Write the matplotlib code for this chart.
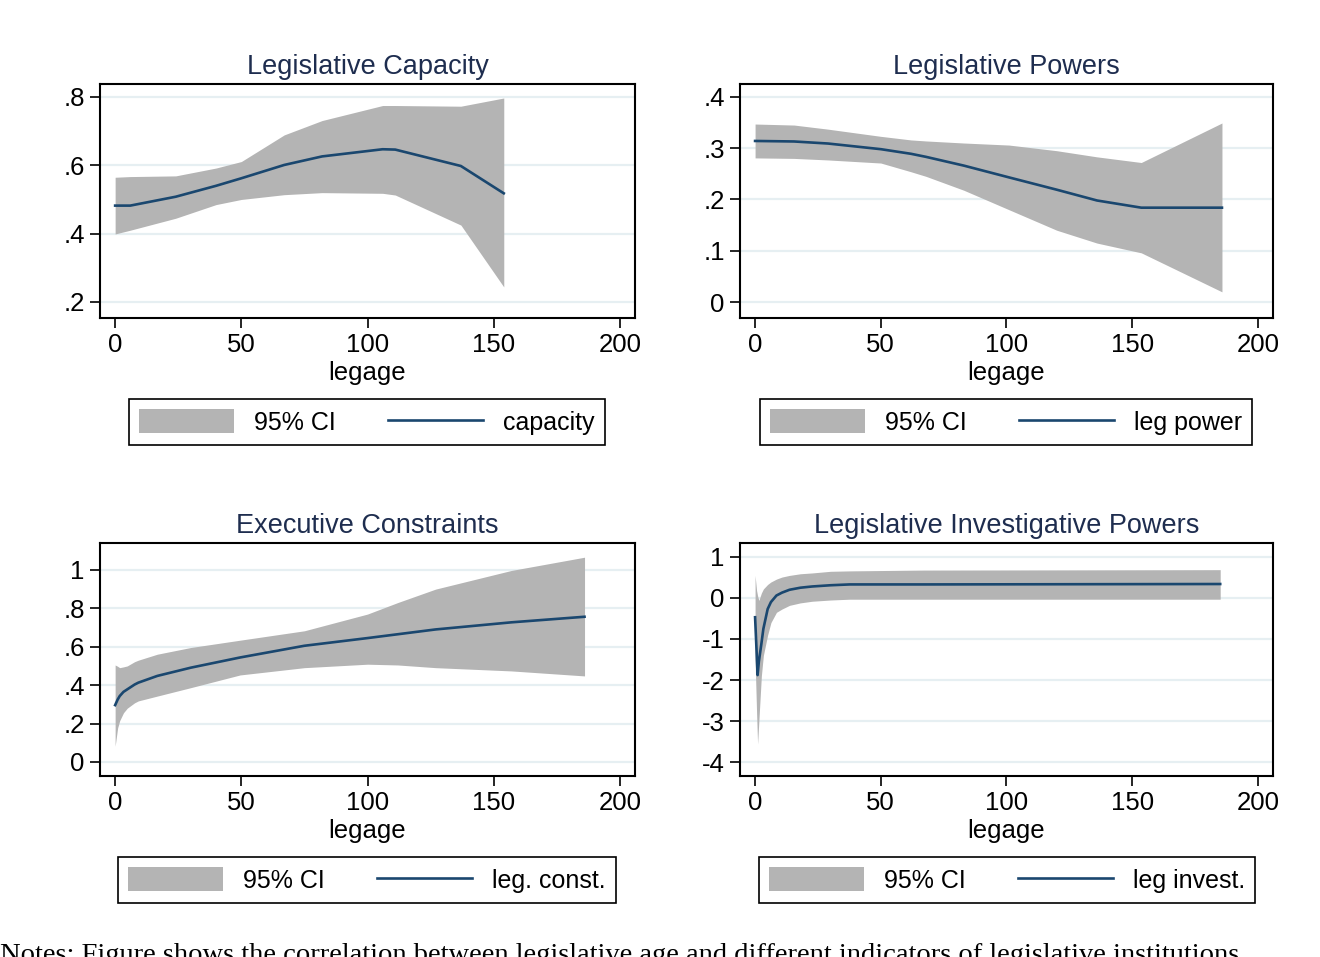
import matplotlib
matplotlib.use("Agg")
import matplotlib.pyplot as plt

plt.rcParams['font.family'] = ['Liberation Sans', 'DejaVu Sans']

#%% Data #######################################################################

# Legislative Capacity
cap_x = [0, 6, 24, 40, 50, 67, 82, 106, 111, 137, 154]
cap_fit = [0.482, 0.482, 0.508, 0.540, 0.562, 0.601, 0.626, 0.647, 0.646, 0.598, 0.518]
cap_hi = [0.565, 0.567, 0.569, 0.592, 0.611, 0.689, 0.731, 0.775, 0.775, 0.773, 0.797]
cap_lo = [0.399, 0.410, 0.445, 0.485, 0.500, 0.514, 0.520, 0.518, 0.513, 0.425, 0.244]

# Legislative Powers
pow_x = [0, 15.5, 29, 50, 62, 68, 83, 101, 120, 136, 153.6, 185.7]
pow_fit = [0.314, 0.313, 0.309, 0.298, 0.289, 0.283, 0.266, 0.243, 0.219, 0.198, 0.184, 0.184]
pow_hi = [0.347, 0.345, 0.337, 0.323, 0.316, 0.314, 0.310, 0.306, 0.295, 0.283, 0.272, 0.349]
pow_lo = [0.281, 0.280, 0.277, 0.271, 0.254, 0.245, 0.218, 0.180, 0.140, 0.115, 0.096, 0.020]

# Executive Constraints
ec_x = [0, 1, 1.8, 3.3, 4.8, 7.7, 9.2, 16.7, 30, 49.5, 75, 100, 112, 127, 157, 186]
ec_fit = [0.296, 0.325, 0.343, 0.365, 0.378, 0.403, 0.413, 0.448, 0.491, 0.544, 0.605,
          0.645, 0.665, 0.690, 0.727, 0.756]
ec_hi = [0.505, 0.498, 0.491, 0.495, 0.500, 0.522, 0.530, 0.561, 0.596, 0.634, 0.683,
         0.770, 0.830, 0.900, 0.997, 1.066]
ec_lo = [0.082, 0.178, 0.215, 0.256, 0.280, 0.308, 0.318, 0.343, 0.387, 0.453, 0.491,
         0.509, 0.505, 0.491, 0.474, 0.448]

# Legislative Investigative Powers
inv_x = [0, 0.6, 1, 1.5, 2.5, 3.3, 5, 6.3, 8.5, 10.7, 13.7, 18, 22.7, 30, 37.6, 52, 67, 185]
inv_fit = [-0.47, -1.30, -1.88, -1.55, -1.12, -0.75, -0.27, -0.10, 0.06, 0.13, 0.20, 0.25,
           0.28, 0.31, 0.33, 0.33, 0.33, 0.34]
inv_hi = [0.55, 0.18, 0.05, -0.06, 0.12, 0.22, 0.33, 0.39, 0.46, 0.51, 0.55, 0.59,
          0.61, 0.65, 0.66, 0.67, 0.68, 0.69]
inv_lo = [-1.50, -2.80, -3.56, -3.00, -1.90, -1.40, -0.90, -0.60, -0.35, -0.27, -0.18, -0.12,
          -0.08, -0.05, -0.03, -0.03, -0.03, -0.03]

xticks = [0, 50, 100, 150, 200]

panels = [
    ("Legislative Capacity", cap_x, cap_fit, cap_lo, cap_hi, "capacity",
     [0.2, 0.4, 0.6, 0.8], [".2", ".4", ".6", ".8"], (0.153, 0.838)),
    ("Legislative Powers", pow_x, pow_fit, pow_lo, pow_hi, "leg power",
     [0, 0.1, 0.2, 0.3, 0.4], ["0", ".1", ".2", ".3", ".4"], (-0.031, 0.425)),
    ("Executive Constraints", ec_x, ec_fit, ec_lo, ec_hi, "leg. const.",
     [0, 0.2, 0.4, 0.6, 0.8, 1], ["0", ".2", ".4", ".6", ".8", "1"], (-0.073, 1.14)),
    ("Legislative Investigative Powers", inv_x, inv_fit, inv_lo, inv_hi, "leg invest.",
     [-4, -3, -2, -1, 0, 1], ["-4", "-3", "-2", "-1", "0", "1"], (-4.34, 1.34)),
]

#%% Figure ####################################################################

W, H = 1320, 957
fig = plt.figure(figsize=(W / 100, H / 100), dpi=100)

# axes boxes in pixels (left, top, right, bottom) and legend centres
boxes = [(100, 84, 635, 318), (740, 84, 1273, 318),
         (100, 543, 635, 776), (740, 543, 1273, 776)]
leg_centres = [(367, 422), (1006, 422), (367, 880), (1007, 880)]

navy = "#1a476f"
ci_grey = "#b4b4b4"
title_col = "#1e2d4f"
fs_title = 19.5
fs_tick = 18.5
fs_leg = 18

for (title, x, fit, lo, hi, lab, yt, ytl, ylim), box, lc in zip(panels, boxes, leg_centres):
    l, t, r, b = box
    ax = fig.add_axes([l / W, 1 - b / H, (r - l) / W, (b - t) / H])
    ax.fill_between(x, lo, hi, color=ci_grey, lw=0, label="95% CI", zorder=2)
    ax.plot(x, fit, color=navy, lw=1.9, label=lab, zorder=3)

    ax.set_xlim(-6, 206)
    ax.set_ylim(*ylim)
    ax.set_xticks(xticks)
    ax.set_yticks(yt)
    ax.set_yticklabels(ytl)
    ax.tick_params(labelsize=fs_tick, length=7, width=1.2, direction="out", pad=4)
    for y in yt:
        ax.axhline(y, color="#e6eff2", lw=1.6, zorder=1)
    for s in ax.spines.values():
        s.set_linewidth(1.5)
    ax.set_title(title, fontsize=fs_title, color=title_col, pad=7)
    ax.set_xlabel("legage", fontsize=fs_tick, labelpad=3)

    ax.legend(loc="center", bbox_to_anchor=(lc[0] / W, 1 - lc[1] / H),
              bbox_transform=fig.transFigure, ncol=2, fontsize=fs_leg,
              frameon=True, fancybox=False, edgecolor="black", framealpha=1,
              handlelength=3.8, handleheight=1.05, handletextpad=0.8,
              columnspacing=2.1, borderpad=0.4, borderaxespad=0)
    ax.get_legend().get_frame().set_linewidth(1.2)

fig.text(0.0, 1 - 943 / H,
         "Notes: Figure shows the correlation between legislative age and "
         "different indicators of legislative institutions.",
         family=["Liberation Serif", "DejaVu Serif"], fontsize=20.5, va="top", ha="left")

fig.savefig("out.png", dpi=100)
